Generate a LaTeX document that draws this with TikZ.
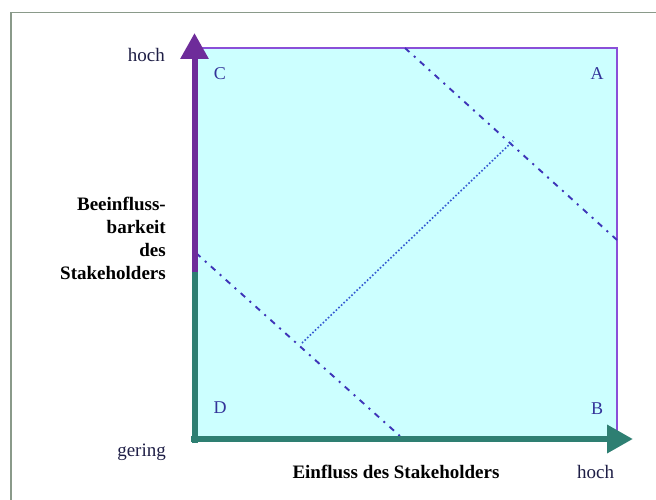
\documentclass[tikz,border=0pt]{standalone}
\usepackage{fontspec}
\setmainfont{Liberation Serif}
\usetikzlibrary{arrows.meta}
\definecolor{fillc}{HTML}{CCFFFF}
\definecolor{framec}{HTML}{8A9A8A}
\definecolor{sqborder}{HTML}{8A4FD8}
\definecolor{purpleax}{HTML}{6E2C9A}
\definecolor{greenax}{HTML}{2E7F72}
\definecolor{dashc}{HTML}{3E34B8}
\definecolor{dotc}{HTML}{3458D0}
\definecolor{labc}{HTML}{1E1E46}
\definecolor{cornc}{HTML}{333399}
\tikzset{
  lab/.style={inner sep=0pt, text=labc, font=\fontsize{19}{23}\selectfont},
  boldlab/.style={inner sep=0pt, text=black, font=\fontsize{19}{23}\selectfont\bfseries},
  cornerlab/.style={inner sep=0pt, text=cornc, font=\fontsize{18}{22}\selectfont},
  dashdotline/.style={dashc, line width=1.9pt, dash pattern=on 6pt off 6pt on 2pt off 6pt},
  dotline/.style={dotc, line width=1.6pt, dash pattern=on 1.6pt off 2pt},
  axistip/.style={-{Triangle[length=26pt,width=27pt]}}
}
\begin{document}
\begin{tikzpicture}[x=1pt,y=-1pt]
\useasboundingbox (0,0) rectangle (656,500);
\fill[white] (0,0) rectangle (656,500);
% outer frame (top and left edges)
\draw[framec, line width=1.2pt] (11,500) -- (11,12.5) -- (656,12.5);
% quadrant square
\fill[fillc] (196,48) rectangle (617,437);
\draw[sqborder, line width=1.5pt] (196,48) -- (617,48) -- (617,437);
% dash-dot boundary lines
\coordinate (a1) at (405,48);
\coordinate (a2) at (617,240);
\coordinate (d1) at (196,253);
\coordinate (d2) at (401,437);
\draw[dashdotline] (a1) -- (a2);
\draw[dashdotline] (d1) -- (d2);
% dotted diagonal
\coordinate (p1) at (302,343);
\coordinate (p2) at (513,141);
\draw[dotline] (p1) -- (p2);
% axes
\coordinate (xs) at (191,439);
\coordinate (xe) at (633,439);
\coordinate (ys) at (194.5,443);
\coordinate (ym) at (194.5,272);
\coordinate (ye) at (194.5,33);
\draw[greenax, line width=6.5pt, axistip] (xs) -- (xe);
\draw[greenax, line width=6pt] (ys) -- (ym);
\draw[purpleax, line width=6pt, axistip] (ym) -- (ye);
% labels
\node[lab, anchor=base east] (hochy) at (165,62) {hoch};
\node[lab, anchor=base east] (gering) at (166,456) {gering};
\node[boldlab, anchor=base] (xlabel) at (396,478) {Einfluss des Stakeholders};
\node[lab, anchor=base west] (hochx) at (577,478) {hoch};
\node[boldlab, align=right, anchor=north east] (ylabel) at (166,197) {Beeinfluss-\\barkeit\\des\\Stakeholders};
% quadrant letters
\node[cornerlab] (C) at (220,74) {C};
\node[cornerlab] (A) at (597,74) {A};
\node[cornerlab] (D) at (220,408) {D};
\node[cornerlab] (B) at (597,409) {B};
\end{tikzpicture}
\end{document}
